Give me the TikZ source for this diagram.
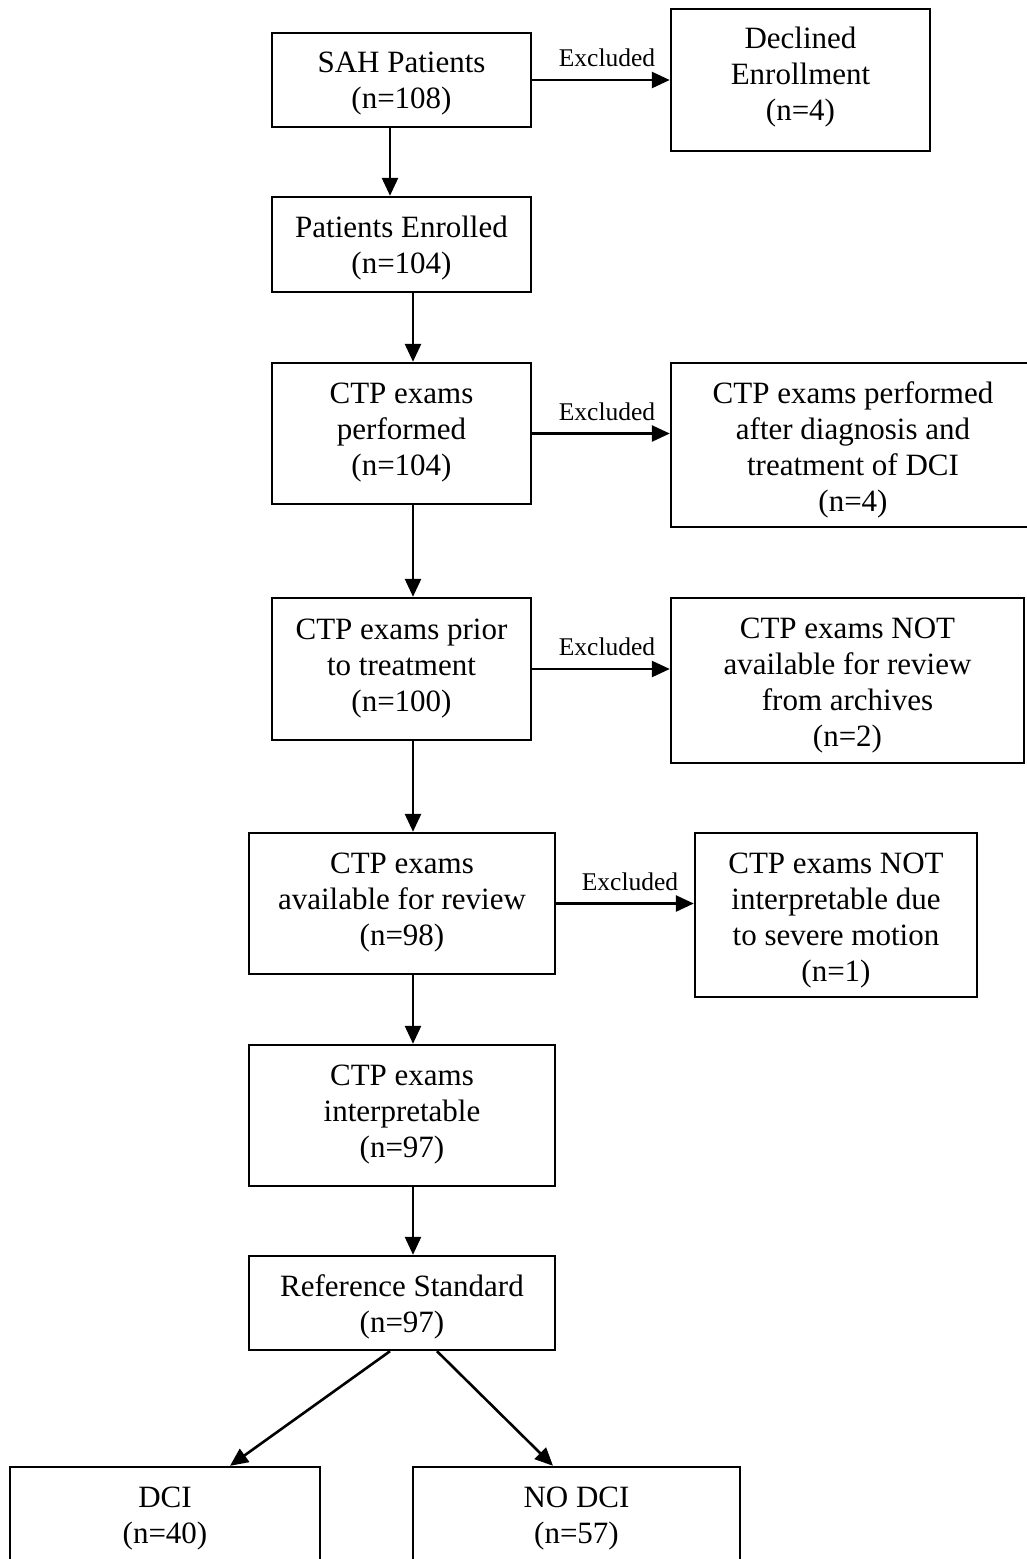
\documentclass[tikz,border=0pt]{standalone}
\usepackage{fontspec}
\setmainfont{Liberation Serif}
\usetikzlibrary{arrows.meta}
\newcommand\flowbox[7]{%
  \node[box, minimum width=#4pt, minimum height=#5pt] (#1) at (#2,#3) {};
  \node[txt] (#1-t) at (#2,#6) {#7};}
\begin{document}
\begin{tikzpicture}[x=1pt,y=-1pt,
  box/.style={draw, line width=2.4pt, inner sep=0pt},
  txt/.style={align=center, inner sep=0pt, font=\fontsize{31}{36}\selectfont},
  arr/.style={line width=2.6pt, -{Triangle[length=18pt,width=16pt]}},
  lab/.style={font=\fontsize{25.5}{30}\selectfont, inner sep=0pt}]
\useasboundingbox (0,0) rectangle (1026,1559);
\flowbox{sah}{401.5}{80}{259}{94}{84}{SAH Patients\\(n=108)}
\flowbox{decl}{800.5}{80}{259}{142}{77}{Declined\\Enrollment\\(n=4)}
\flowbox{enr}{401.5}{244.5}{259}{95}{248.5}{Patients Enrolled\\(n=104)}
\flowbox{perf}{401.5}{433.5}{259}{141}{433}{CTP exams\\performed\\(n=104)}
\flowbox{ex2}{853}{445}{364}{164}{450}{CTP exams performed\\after diagnosis and\\treatment of DCI\\(n=4)}
\flowbox{prior}{401.5}{669}{259}{142}{668.5}{CTP exams prior\\to treatment\\(n=100)}
\flowbox{ex3}{847.5}{680.5}{353}{165}{685.5}{CTP exams NOT\\available for review\\from archives\\(n=2)}
\flowbox{avail}{402}{903.5}{306}{141}{903}{CTP exams\\available for review\\(n=98)}
\flowbox{ex4}{836}{915}{282}{164}{921}{CTP exams NOT\\interpretable due\\to severe motion\\(n=1)}
\flowbox{interp}{402}{1115.5}{306}{141}{1115}{CTP exams\\interpretable\\(n=97)}
\flowbox{ref}{402}{1303}{306}{94}{1307}{Reference Standard\\(n=97)}
\flowbox{dci}{165}{1515}{310}{96}{1519}{DCI\\(n=40)}
\flowbox{nodci}{576.5}{1515}{327}{96}{1519}{NO DCI\\(n=57)}

\draw[arr] (sah.east) -- (decl.west);
\node[lab] (l1) at (607,58) {Excluded};
\draw[arr] ([xshift=-11.5pt]sah.south) -- ([xshift=-11.5pt]enr.north);
\draw[arr] ([xshift=11.5pt]enr.south) -- ([xshift=11.5pt]perf.north);
\draw[arr] (perf.east) -- (perf.east -| ex2.west);
\node[lab] (l2) at (607,412) {Excluded};
\draw[arr] ([xshift=11.5pt]perf.south) -- ([xshift=11.5pt]prior.north);
\draw[arr] (prior.east) -- (prior.east -| ex3.west);
\node[lab] (l3) at (607,647) {Excluded};
\draw[arr] ([xshift=11.5pt]prior.south) -- ([xshift=11pt]avail.north);
\draw[arr] (avail.east) -- (avail.east -| ex4.west);
\node[lab] (l4) at (630,882) {Excluded};
\draw[arr] ([xshift=11pt]avail.south) -- ([xshift=11pt]interp.north);
\draw[arr] ([xshift=11pt]interp.south) -- ([xshift=11pt]ref.north);
\draw[arr] ([xshift=-12pt]ref.south) -- ([xshift=65pt]dci.north);
\draw[arr] ([xshift=35pt]ref.south) -- ([xshift=-23.5pt]nodci.north);
\end{tikzpicture}
\end{document}
